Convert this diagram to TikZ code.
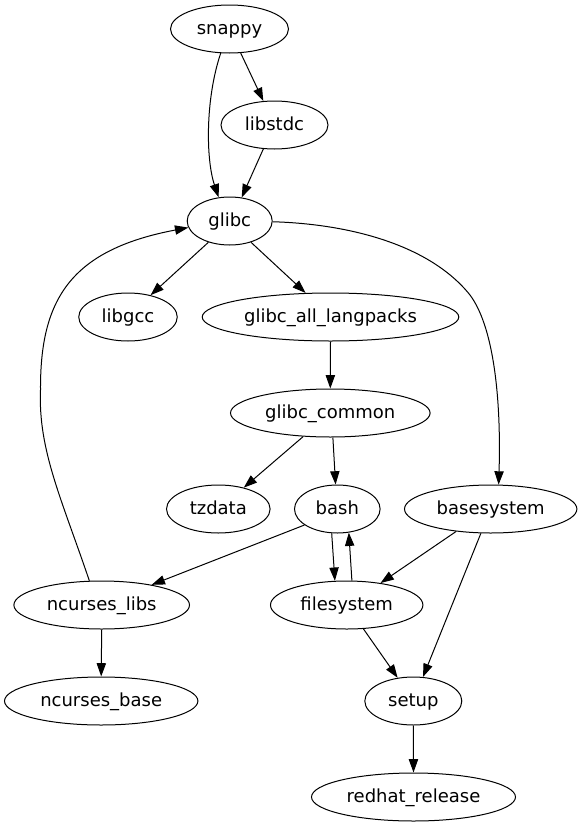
\documentclass[tikz,border=0pt]{standalone}
\usepackage{fontspec}
\setmainfont{DejaVu Sans}
\usetikzlibrary{shapes.geometric,arrows.meta}
\begin{document}
\begin{tikzpicture}[x=1pt,y=-1pt,
  nd/.style={ellipse,draw,line width=1pt,inner sep=0pt,minimum height=48pt,
    text height=13pt,text depth=2.4pt,font=\fontsize{18}{22}\selectfont},
  ed/.style={line width=1pt,-{Triangle[length=13.3pt,width=9.3pt]}}]
\useasboundingbox (0,0) rectangle (583,827);
\node[nd,minimum width=118pt] (snappy) at (229.5,29) {snappy};
\node[nd,minimum width=107pt] (libstdc) at (274.5,125) {libstdc};
\node[nd,minimum width=85pt] (glibc) at (229.7,221) {glibc};
\node[nd,minimum width=98.5pt] (libgcc) at (128,317) {libgcc};
\node[nd,minimum width=256.6pt] (gal) at (330.5,317) {glibc\_all\_langpacks};
\node[nd,minimum width=199.6pt] (gcommon) at (330.3,413) {glibc\_common};
\node[nd,minimum width=103.6pt] (tzdata) at (218.3,509) {tzdata};
\node[nd,minimum width=85.6pt] (bash) at (337.3,509) {bash};
\node[nd,minimum width=172.4pt] (basesystem) at (490.7,509) {basesystem};
\node[nd,minimum width=175.6pt] (ncl) at (101.7,605) {ncurses\_libs};
\node[nd,minimum width=152.4pt] (filesystem) at (346.7,605) {filesystem};
\node[nd,minimum width=193.4pt] (ncb) at (101.2,701) {ncurses\_base};
\node[nd,minimum width=97pt] (setup) at (413.3,701) {setup};
\node[nd,minimum width=204pt] (redhat) at (413.5,797) {redhat\_release};
\draw[ed] (snappy.-65) -- (libstdc.115);
\draw[ed] (snappy.-110) .. controls (205,100) and (206,160) .. (glibc.115);
\draw[ed] (libstdc.-115) -- (glibc.63);
\draw[ed] (glibc.-135) -- (libgcc.44);
\draw[ed] (glibc.-45) -- (gal.136);
\draw[ed] (glibc.-1) .. controls (350,224) and (430,245) .. (470,295)
  .. controls (496,330) and (501,410) .. (basesystem.72);
\draw[ed] (gal.south) -- (gcommon.north);
\draw[ed] (gcommon.-139) -- (tzdata.40);
\draw[ed] (gcommon.-84) -- (bash.94);
\draw[ed] (bash.-154) -- (ncl.22.5);
\draw[ed] (bash.-103) -- (filesystem.116);
\draw[ed] (filesystem.78) -- (bash.-64);
\draw[ed] (basesystem.-147) -- (filesystem.33);
\draw[ed] (basesystem.-112) -- (setup.68);
\draw[ed] (filesystem.-55) -- (setup.124);
\draw[ed] (setup.south) -- (redhat.north);
\draw[ed] (ncl.south) -- (ncb.north);
\draw[ed] (ncl.117) .. controls (62,500) and (38,450) .. (40.5,390)
  .. controls (40,300) and (70,250) .. (glibc.-171);
\end{tikzpicture}
\end{document}
